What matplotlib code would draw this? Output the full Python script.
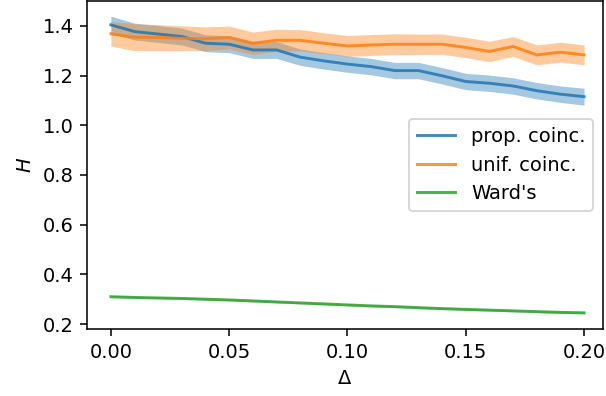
import numpy as np
import matplotlib.pyplot as plt

delta = np.round(np.arange(0, 0.2001, 0.01), 2)

prop_mean = [1.404, 1.377, 1.367, 1.357, 1.330, 1.326, 1.303, 1.303, 1.274, 1.259, 1.246,
             1.236, 1.220, 1.220, 1.199, 1.176, 1.169, 1.158, 1.139, 1.125, 1.115]
prop_err = [0.035, 0.034, 0.034, 0.034, 0.034, 0.034, 0.034, 0.034, 0.033, 0.033, 0.033,
            0.033, 0.033, 0.033, 0.033, 0.033, 0.033, 0.033, 0.033, 0.033, 0.034]

unif_mean = [1.368, 1.354, 1.353, 1.350, 1.348, 1.353, 1.330, 1.342, 1.342, 1.330, 1.319,
             1.323, 1.326, 1.326, 1.326, 1.313, 1.297, 1.317, 1.283, 1.294, 1.283]
unif_err = [0.050, 0.054, 0.052, 0.050, 0.048, 0.046, 0.045, 0.044, 0.043, 0.042, 0.042,
            0.042, 0.042, 0.041, 0.041, 0.041, 0.041, 0.040, 0.040, 0.040, 0.040]

ward_mean = [0.310, 0.307, 0.305, 0.303, 0.300, 0.297, 0.293, 0.289, 0.285, 0.281, 0.277,
             0.273, 0.270, 0.266, 0.262, 0.259, 0.256, 0.253, 0.250, 0.247, 0.245]
ward_err = [0.004] * 21

labels = ["prop. coinc.", "unif. coinc.", "Ward's"]
colors = ["tab:blue", "tab:orange", "tab:green"]

DPI = 140
fig = plt.figure(figsize=(606 / DPI, 396 / DPI), dpi=DPI)
ax = fig.add_axes([87 / 606, 1 - 329 / 396, 516 / 606, 328 / 396])

for m, e, lab, c in zip([prop_mean, unif_mean, ward_mean],
                        [prop_err, unif_err, ward_err], labels, colors):
    m = np.array(m)
    e = np.array(e)
    ax.plot(delta, m, color=c, lw=1.5, alpha=0.85, label=lab)
    ax.fill_between(delta, m - e, m + e, color=c, alpha=0.4, lw=0)

ax.set_xlim(-0.0101, 0.208)
ax.set_ylim(0.18, 1.5)
ax.set_xticks([0.0, 0.05, 0.10, 0.15, 0.20])
ax.set_xticklabels(["0.00", "0.05", "0.10", "0.15", "0.20"])
ax.set_yticks([0.2, 0.4, 0.6, 0.8, 1.0, 1.2, 1.4])
ax.set_xlabel(r"$\Delta$")
ax.set_ylabel(r"$H$")
ax.legend(loc="center right")

fig.savefig("out.png", dpi=DPI)
